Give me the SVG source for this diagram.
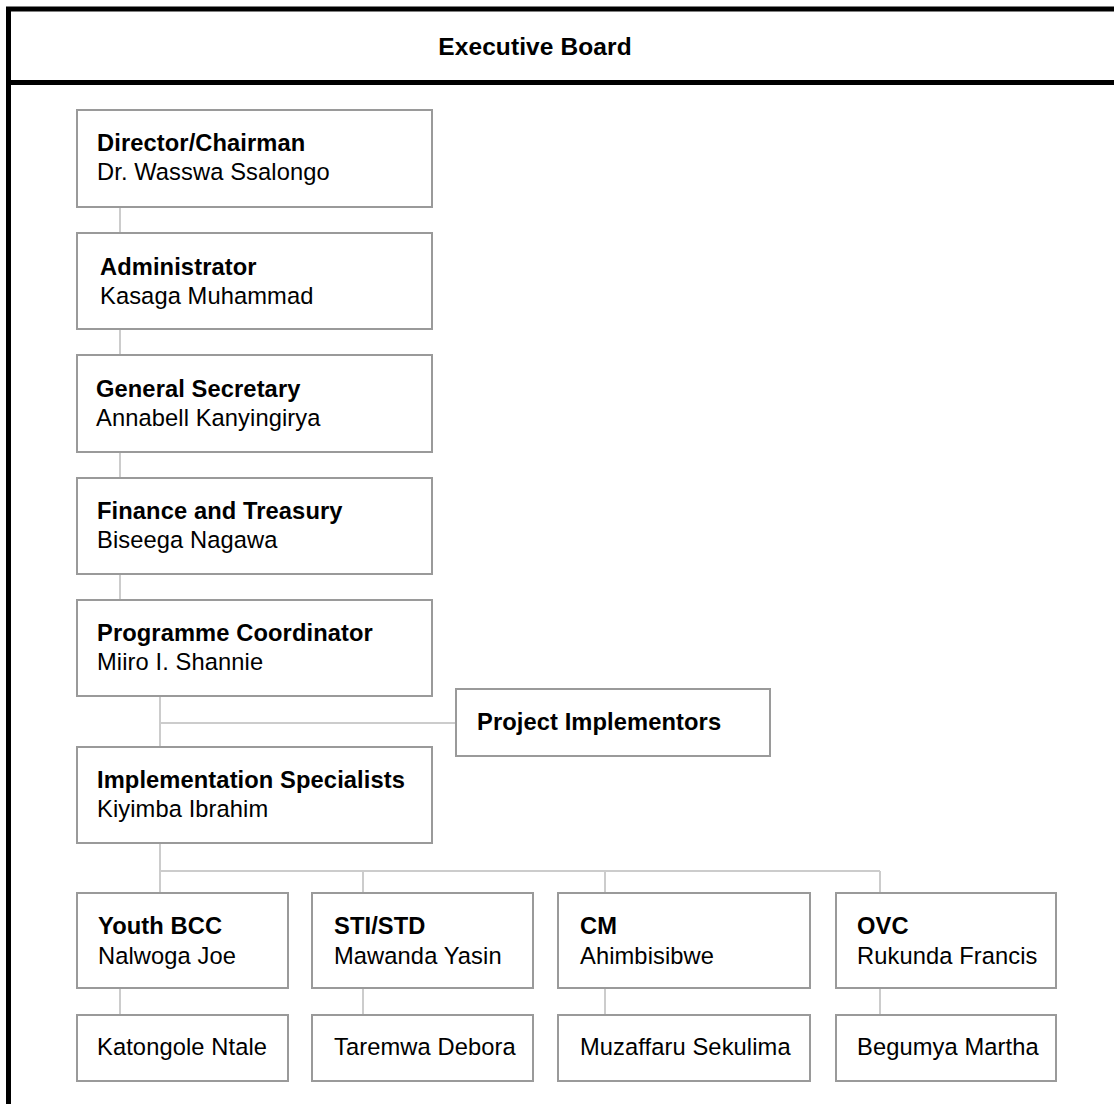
<svg xmlns="http://www.w3.org/2000/svg" width="1114" height="1104" viewBox="0 0 1114 1104">
<style>
.box{fill:#fff;stroke:#9a9a9a;stroke-width:2}
.conn{fill:none;stroke:#cccccc;stroke-width:2}
.t{font-family:"Liberation Sans",Arial,sans-serif;font-size:23.7px;fill:#000;letter-spacing:0.1px}
.b{font-weight:bold}
.frame{fill:none;stroke:#000;stroke-width:5}
</style>
<rect width="1114" height="1104" fill="#fff"/>
<g id="frame">
<rect class="frame" x="8.5" y="9" width="1200" height="1200"/>
<line x1="8" y1="82.5" x2="1114" y2="82.5" stroke="#000" stroke-width="5"/>
<text class="t b" x="535" y="55" text-anchor="middle" style="font-size:24.5px">Executive Board</text>
</g>
<g id="connectors">
<line class="conn" x1="120" y1="207" x2="120" y2="233"/>
<line class="conn" x1="120" y1="329" x2="120" y2="355"/>
<line class="conn" x1="120" y1="452" x2="120" y2="478"/>
<line class="conn" x1="120" y1="574" x2="120" y2="600"/>
<line class="conn" x1="160" y1="696" x2="160" y2="747"/>
<line class="conn" x1="160" y1="723" x2="456" y2="723"/>
<line class="conn" x1="160" y1="843" x2="160" y2="893"/>
<line class="conn" x1="160" y1="871" x2="880" y2="871"/>
<line class="conn" x1="363" y1="871" x2="363" y2="893"/>
<line class="conn" x1="605" y1="871" x2="605" y2="893"/>
<line class="conn" x1="880" y1="871" x2="880" y2="893"/>
<line class="conn" x1="120" y1="988" x2="120" y2="1015"/>
<line class="conn" x1="363" y1="988" x2="363" y2="1015"/>
<line class="conn" x1="605" y1="988" x2="605" y2="1015"/>
<line class="conn" x1="880" y1="988" x2="880" y2="1015"/>
</g>
<g id="director">
<rect class="box" x="77" y="110" width="355" height="97"/>
<text class="t b" x="97" y="151">Director/Chairman</text>
<text class="t" x="97" y="180">Dr. Wasswa Ssalongo</text>
</g>
<g id="administrator">
<rect class="box" x="77" y="233" width="355" height="96"/>
<text class="t b" x="100" y="275">Administrator</text>
<text class="t" x="100" y="304">Kasaga Muhammad</text>
</g>
<g id="general-secretary">
<rect class="box" x="77" y="355" width="355" height="97"/>
<text class="t b" x="96" y="397">General Secretary</text>
<text class="t" x="96" y="426">Annabell Kanyingirya</text>
</g>
<g id="finance">
<rect class="box" x="77" y="478" width="355" height="96"/>
<text class="t b" x="97" y="519">Finance and Treasury</text>
<text class="t" x="97" y="548">Biseega Nagawa</text>
</g>
<g id="programme">
<rect class="box" x="77" y="600" width="355" height="96"/>
<text class="t b" x="97" y="641">Programme Coordinator</text>
<text class="t" x="97" y="670">Miiro I. Shannie</text>
</g>
<g id="project-implementors">
<rect class="box" x="456" y="689" width="314" height="67"/>
<text class="t b" x="477" y="730">Project Implementors</text>
</g>
<g id="implementation">
<rect class="box" x="77" y="747" width="355" height="96"/>
<text class="t b" x="97" y="788">Implementation Specialists</text>
<text class="t" x="97" y="817">Kiyimba Ibrahim</text>
</g>
<g id="youth-bcc">
<rect class="box" x="77" y="893" width="211" height="95"/>
<text class="t b" x="98" y="934">Youth BCC</text>
<text class="t" x="98" y="964">Nalwoga Joe</text>
</g>
<g id="sti-std">
<rect class="box" x="312" y="893" width="221" height="95"/>
<text class="t b" x="334" y="934">STI/STD</text>
<text class="t" x="334" y="964">Mawanda Yasin</text>
</g>
<g id="cm">
<rect class="box" x="558" y="893" width="252" height="95"/>
<text class="t b" x="580" y="934">CM</text>
<text class="t" x="580" y="964">Ahimbisibwe</text>
</g>
<g id="ovc">
<rect class="box" x="836" y="893" width="220" height="95"/>
<text class="t b" x="857" y="934">OVC</text>
<text class="t" x="857" y="964">Rukunda Francis</text>
</g>
<g id="katongole">
<rect class="box" x="77" y="1015" width="211" height="66"/>
<text class="t" x="97" y="1055">Katongole Ntale</text>
</g>
<g id="taremwa">
<rect class="box" x="312" y="1015" width="221" height="66"/>
<text class="t" x="334" y="1055">Taremwa Debora</text>
</g>
<g id="muzaffaru">
<rect class="box" x="558" y="1015" width="252" height="66"/>
<text class="t" x="580" y="1055">Muzaffaru Sekulima</text>
</g>
<g id="begumya">
<rect class="box" x="836" y="1015" width="220" height="66"/>
<text class="t" x="857" y="1055">Begumya Martha</text>
</g>
</svg>
